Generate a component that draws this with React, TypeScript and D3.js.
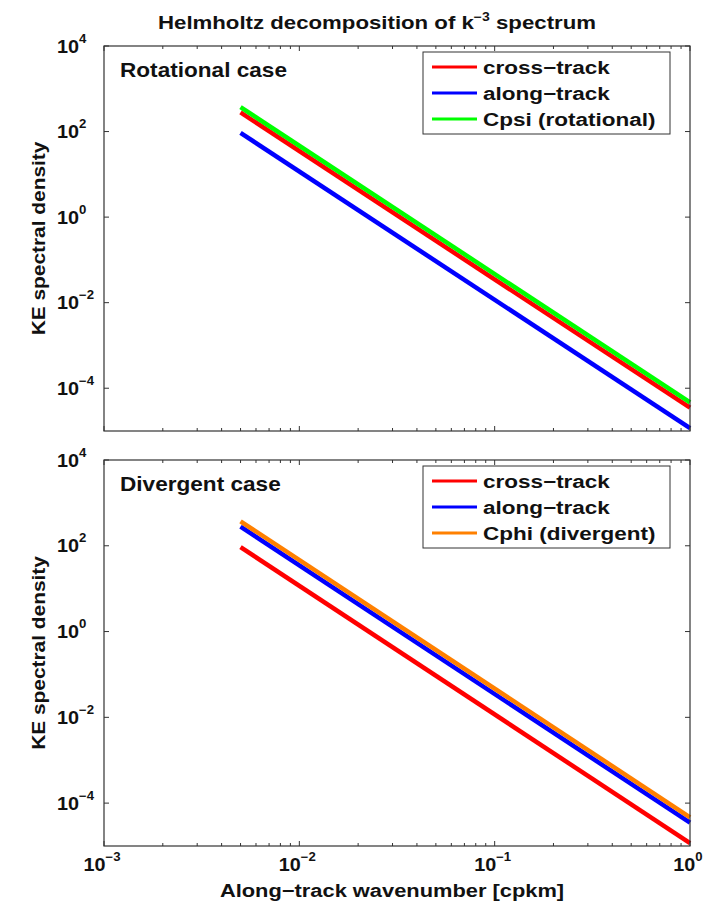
import React from 'react'
import * as d3 from 'd3'

// wavenumber endpoints of the k^-3 lines [cpkm]
const wavenumbers = [0.005, 1]

// rotational case
const rotCross = [280, 3.5e-5]
const rotAlong = [93, 1.17e-5]
const rotCpsi = [373, 4.67e-5]

// divergent case
const divCross = [93, 1.17e-5]
const divAlong = [280, 3.5e-5]
const divCphi = [373, 4.67e-5]

const xTickExps = [-3, -2, -1, 0]
const yTickExps = [-4, -2, 0, 2, 4]

const panels = [
  {
    title: 'Rotational case',
    top: 46,
    bottom: 431,
    series: [
      {name: 'cross\u2212track', values: rotCross, color: '#ff0000'},
      {name: 'along\u2212track', values: rotAlong, color: '#0000ff'},
      {name: 'Cpsi (rotational)', values: rotCpsi, color: '#00ff00'},
    ],
  },
  {
    title: 'Divergent case',
    top: 460,
    bottom: 846,
    series: [
      {name: 'cross\u2212track', values: divCross, color: '#ff0000'},
      {name: 'along\u2212track', values: divAlong, color: '#0000ff'},
      {name: 'Cphi (divergent)', values: divCphi, color: '#ff8000'},
    ],
  },
]

const W = 704
const H = 904
const left = 104
const right = 690
const font = '"Liberation Sans", Arial, Helvetica, sans-serif'
const axisColor = '#333'
const ink = '#111'

const xScale = d3.scaleLog().domain([1e-3, 1]).range([left, right])

// minor ticks on the log x axis
const xMinor: number[] = []
xTickExps.slice(0, -1).forEach(e => {
  for (let m = 2; m <= 9; m++) xMinor.push(m * Math.pow(10, e))
})

// the original figure's text is stretched sideways, so scale in x
const Txt = ({x, y, size, sx = 1, anchor = 'start', rotate = 0, children}: any) => (
  <g transform={`translate(${x},${y}) rotate(${rotate}) scale(${sx},1)`}>
    <text x={0} y={0} textAnchor={anchor} fontFamily={font} fontWeight="bold" fontSize={size} fill={ink}>{children}</text>
  </g>
)

const Pow10 = ({x, y, exp, anchor}: {x: number, y: number, exp: number, anchor: string}) => (
  <Txt x={x} y={y} size={18} sx={1.1} anchor={anchor}>
    10<tspan dy={-10} fontSize={12}>{exp < 0 ? '\u2212' + Math.abs(exp) : exp}</tspan>
  </Txt>
)

const Panel = ({p, last}: {p: any, last: boolean}) => {
  const yScale = d3.scaleLog().domain([1e-5, 1e4]).range([p.bottom, p.top])
  const line = d3.line<[number, number]>().x(d => xScale(d[0])).y(d => yScale(d[1]))
  const legX = 423, legY = p.top + 6, legW = 247, legH = 82
  return (
    <g>
      {p.series.map((s: any) => (
        <path key={s.name + s.color} d={line(wavenumbers.map((k, i) => [k, s.values[i]]) as [number, number][]) || ''}
          stroke={s.color} strokeWidth={4.5} fill="none" />
      ))}
      {xTickExps.map(e => {
        const x = xScale(Math.pow(10, e))
        return (
          <g key={'xt' + e}>
            <line x1={x} x2={x} y1={p.bottom} y2={p.bottom - 5} stroke={axisColor} />
            <line x1={x} x2={x} y1={p.top} y2={p.top + 5} stroke={axisColor} />
          </g>
        )
      })}
      {xMinor.map(v => {
        const x = xScale(v)
        return (
          <g key={'xm' + v}>
            <line x1={x} x2={x} y1={p.bottom} y2={p.bottom - 3} stroke={axisColor} />
            <line x1={x} x2={x} y1={p.top} y2={p.top + 3} stroke={axisColor} />
          </g>
        )
      })}
      {yTickExps.map(e => {
        const y = yScale(Math.pow(10, e))
        return (
          <g key={'yt' + e}>
            <line x1={left} x2={left + 5} y1={y} y2={y} stroke={axisColor} />
            <line x1={right} x2={right - 5} y1={y} y2={y} stroke={axisColor} />
            <Pow10 x={57} y={y + 6.5} exp={e} anchor="start" />
          </g>
        )
      })}
      <rect x={left} y={p.top} width={right - left} height={p.bottom - p.top} fill="none" stroke={axisColor} strokeWidth={1.2} />
      {last && xTickExps.map(e => (
        <Pow10 key={'xl' + e} x={xScale(Math.pow(10, e)) - 2} y={p.bottom + 25} exp={e} anchor="middle" />
      ))}
      <Txt x={120} y={p.top + 31} size={20} sx={1.13}>{p.title}</Txt>
      <Txt x={45} y={(p.top + p.bottom) / 2} size={18} sx={1.16} anchor="middle" rotate={-90}>KE spectral density</Txt>
      {/* legend */}
      <rect x={legX} y={legY} width={legW} height={legH} fill="#fff" stroke={axisColor} strokeWidth={1} />
      {p.series.map((s: any, i: number) => {
        const y = legY + 15 + i * 26
        return (
          <g key={'lg' + i}>
            <line x1={legX + 9} x2={legX + 54} y1={y} y2={y} stroke={s.color} strokeWidth={3} />
            <Txt x={legX + 60} y={y + 7} size={18} sx={1.25}>{s.name}</Txt>
          </g>
        )
      })}
    </g>
  )
}

export default function App() {
  return (
    <svg width={W} height={H} style={{position: 'absolute', left: 0, top: 0, background: '#fff'}}>
      <Txt x={158} y={29} size={19} sx={1.17}>
        Helmholtz decomposition of  k<tspan dy={-8} fontSize={12}>{'\u22123'}</tspan><tspan dy={8}> spectrum</tspan>
      </Txt>
      {panels.map((p, i) => <Panel key={p.title} p={p} last={i === panels.length - 1} />)}
      <Txt x={392} y={897} size={19} sx={1.15} anchor="middle">
        Along{'\u2212'}track wavenumber [cpkm]
      </Txt>
    </svg>
  )
}
